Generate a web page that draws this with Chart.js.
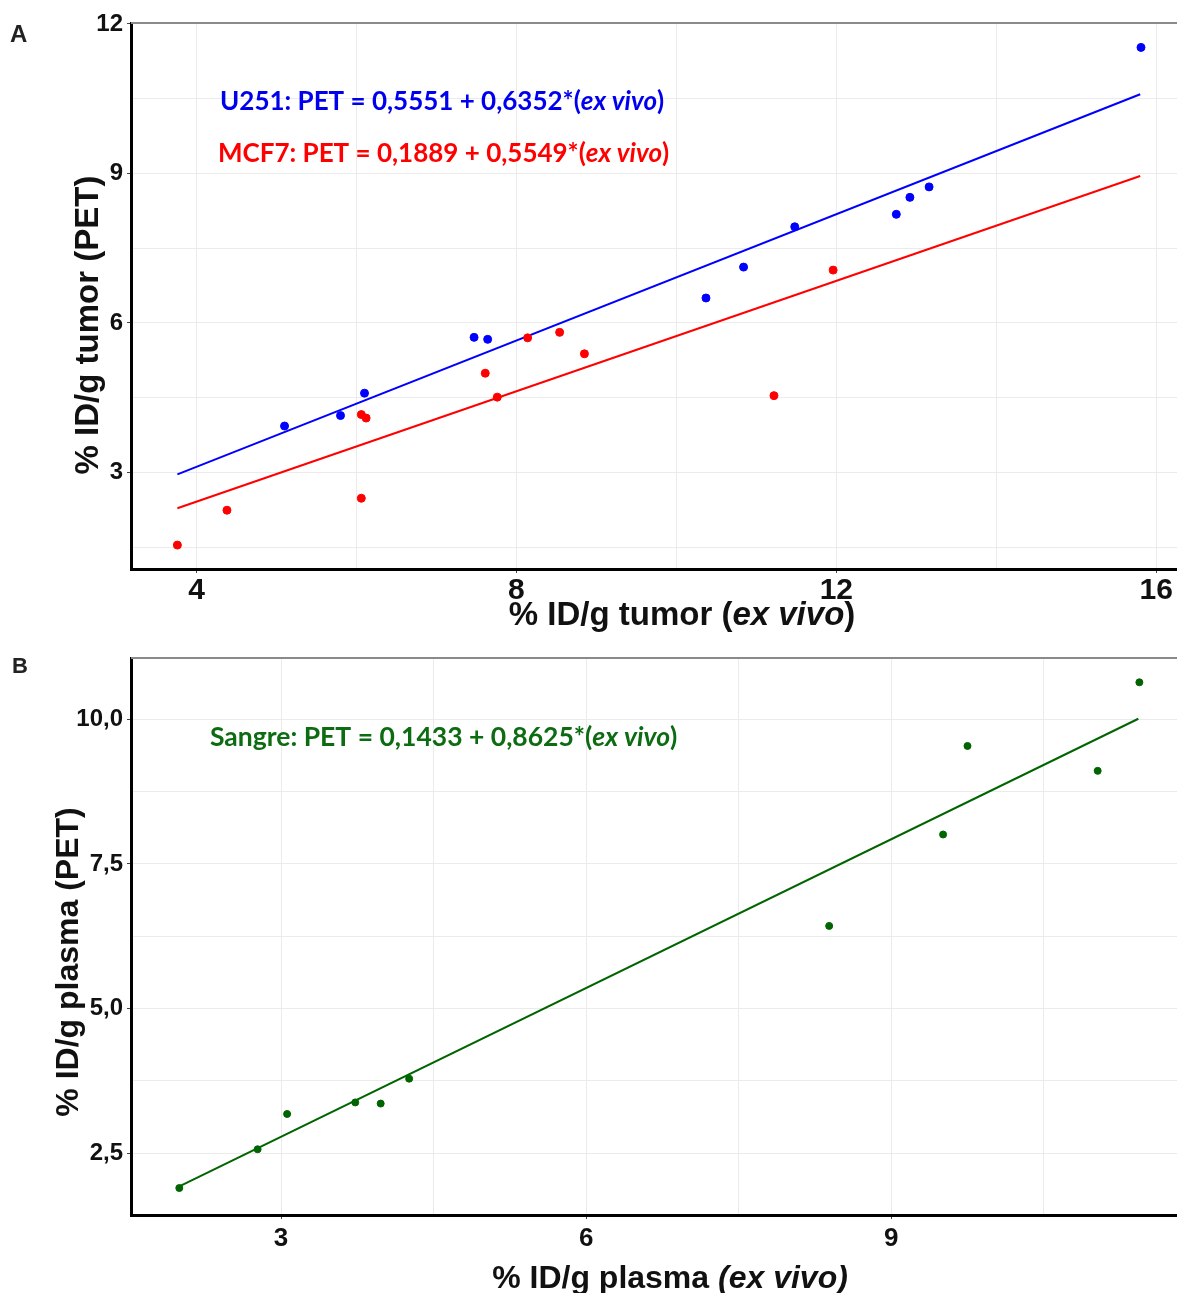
<!DOCTYPE html>
<html>
<head>
<meta charset="utf-8">
<script src="https://cdn.jsdelivr.net/npm/chart.js@4"></script>
<style>
  html, body { margin: 0; padding: 0; background: #fff; }
  #wrap { position: relative; width: 1177px; height: 1293px; overflow: hidden; }
  canvas { display: block; }
</style>
</head>
<body>
<div id="wrap">
  <canvas id="graficoA" width="1177" height="640"></canvas>
  <canvas id="graficoB" width="1177" height="653"></canvas>
</div>
<script>
// -------------------------
// Panel A - tumor
// -------------------------
const u251ExVivo = [5.10, 5.80, 6.10, 7.47, 7.64, 10.37, 10.84, 11.48, 12.75, 12.92, 13.16, 15.81];
const u251Pet    = [3.93, 4.14, 4.59, 5.71, 5.67, 6.50, 7.12, 7.93, 8.18, 8.52, 8.73, 11.53];
const mcf7ExVivo = [3.76, 4.38, 6.06, 6.06, 6.12, 7.61, 7.76, 8.14, 8.54, 8.85, 11.22, 11.96];
const mcf7Pet    = [1.54, 2.24, 2.48, 4.16, 4.09, 4.99, 4.51, 5.70, 5.81, 5.38, 4.54, 7.06];

// rectas de regresion (extremos)
const u251RectaX = [3.76, 15.80];
const u251RectaY = [2.96, 10.59];
const mcf7RectaX = [3.76, 15.80];
const mcf7RectaY = [2.28, 8.95];

// -------------------------
// Panel B - sangre
// -------------------------
const sangreExVivo = [2.00, 2.77, 3.06, 3.73, 3.98, 4.26, 8.39, 9.51, 9.75, 11.03, 11.44];
const sangrePet    = [1.90, 2.57, 3.18, 3.38, 3.36, 3.79, 6.43, 8.01, 9.54, 9.11, 10.64];
const sangreRectaX = [2.00, 11.43];
const sangreRectaY = [1.93, 10.01];

// ticks
const ticksXA = [4, 8, 12, 16];
const minorXA = [6, 10, 14];
const ticksYA = [3, 6, 9, 12];
const minorYA = [1.5, 4.5, 7.5, 10.5];

const ticksXB = [3, 6, 9];
const minorXB = [4.5, 7.5, 10.5];
const ticksYB = [2.5, 5, 7.5, 10];
const labelsYB = ["2,5", "5,0", "7,5", "10,0"];
const minorYB = [3.75, 6.25, 8.75];

// -------------------------
// helpers
// -------------------------
function puntos(xs, ys) {
  return xs.map((x, i) => ({ x: x, y: ys[i] }));
}

function eje(cfg) {
  const mayores = cfg.mayores;
  const etiquetas = cfg.etiquetas || mayores.map(String);
  return {
    type: "linear",
    min: cfg.min,
    max: cfg.max,
    afterBuildTicks: s => {
      s.ticks = mayores.concat(cfg.menores).sort((a, b) => a - b).map(v => ({ value: v }));
    },
    afterFit: s => {
      // sin margenes extra por las etiquetas de los extremos
      s.paddingLeft = 0;
      s.paddingRight = 0;
      s.paddingTop = 0;
      s.paddingBottom = 0;
      if (cfg.esX) s.height = cfg.tam; else s.width = cfg.tam;
    },
    ticks: {
      autoSkip: false,
      maxRotation: 0,
      padding: cfg.padding,
      color: "#111",
      font: { family: "'Liberation Sans', Arial, sans-serif", size: cfg.fuente, weight: "bold" },
      callback: v => {
        const i = mayores.indexOf(v);
        return i >= 0 ? etiquetas[i] : "";
      }
    },
    grid: {
      color: "#ebebeb",
      lineWidth: 1,
      tickLength: 4,
      tickColor: c => (c.tick && mayores.includes(c.tick.value)) ? "#444" : "rgba(0,0,0,0)"
    },
    border: { color: "#000", width: 3 }
  };
}

// texto con partes en cursiva + borde superior gris
const textosPlugin = {
  id: "textos",
  beforeDatasetsDraw(chart) {
    const a = chart.chartArea;
    const ctx = chart.ctx;
    ctx.save();
    ctx.strokeStyle = "#8a8a8a";
    ctx.lineWidth = 2;
    ctx.beginPath();
    ctx.moveTo(a.left, a.top);
    ctx.lineTo(a.right, a.top);
    ctx.stroke();
    ctx.restore();
  },
  afterDraw(chart, args, opts) {
    const ctx = chart.ctx;
    (opts.items || []).forEach(item => {
      ctx.save();
      ctx.fillStyle = item.color;
      ctx.textBaseline = "alphabetic";
      ctx.translate(item.x, item.y);
      if (item.rotar) ctx.rotate(-Math.PI / 2);
      const fuente = p => (p.it ? "italic " : "") + "bold " + item.size + "px " + item.family;
      let total = 0;
      item.partes.forEach(p => { ctx.font = fuente(p); total += ctx.measureText(p.t).width; });
      let x = item.centro ? -total / 2 : 0;
      item.partes.forEach(p => {
        ctx.font = fuente(p);
        ctx.fillText(p.t, x, 0);
        x += ctx.measureText(p.t).width;
      });
      ctx.restore();
    });
  }
};

const ARIAL = "'Liberation Sans', Arial, sans-serif";
const CALIBRI = "Lato, 'Open Sans', sans-serif";

function opcionesBase(scales, items, padTop) {
  return {
    responsive: false,
    animation: false,
    layout: { autoPadding: false, padding: { top: padTop, right: 0, left: 0, bottom: 0 } },
    scales: scales,
    plugins: {
      legend: { display: false },
      tooltip: { enabled: false },
      textos: { items: items }
    }
  };
}

// -------------------------
// Grafico A
// -------------------------
new Chart(document.getElementById("graficoA"), {
  type: "scatter",
  data: {
    datasets: [
      { data: puntos(u251ExVivo, u251Pet), backgroundColor: "#0000ff", borderColor: "#0000ff", pointRadius: 4, order: 0 },
      { data: puntos(mcf7ExVivo, mcf7Pet), backgroundColor: "#ff0000", borderColor: "#ff0000", pointRadius: 4, order: 0 },
      { data: puntos(u251RectaX, u251RectaY), showLine: true, pointRadius: 0, borderColor: "#0000ff", borderWidth: 2, order: 1 },
      { data: puntos(mcf7RectaX, mcf7RectaY), showLine: true, pointRadius: 0, borderColor: "#ff0000", borderWidth: 2, order: 1 }
    ]
  },
  options: opcionesBase({
    x: eje({ esX: true, min: 3.18, max: 16.26, mayores: ticksXA, menores: minorXA, fuente: 30, tam: 71, padding: 0 }),
    y: eje({ esX: false, min: 1.06, max: 12.02, mayores: ticksYA, menores: minorYA, fuente: 24, tam: 131, padding: 4 })
  }, [
    { x: 10, y: 42, size: 24, family: ARIAL, color: "#222", partes: [{ t: "A" }] },
    { x: 220, y: 110, size: 26, family: CALIBRI, color: "#0000ee",
      partes: [{ t: "U251: PET = 0,5551 + 0,6352*(" }, { t: "ex vivo", it: true }, { t: ")" }] },
    { x: 218, y: 162, size: 26, family: CALIBRI, color: "#ff0000",
      partes: [{ t: "MCF7: PET = 0,1889 + 0,5549*(" }, { t: "ex vivo", it: true }, { t: ")" }] },
    { x: 682, y: 625, size: 33, family: ARIAL, color: "#111", centro: true,
      partes: [{ t: "% ID/g tumor (" }, { t: "ex vivo", it: true }, { t: ")" }] },
    { x: 98, y: 325, size: 33, family: ARIAL, color: "#111", centro: true, rotar: true,
      partes: [{ t: "% ID/g tumor (PET)" }] }
  ], 23),
  plugins: [textosPlugin]
});

// -------------------------
// Grafico B
// -------------------------
new Chart(document.getElementById("graficoB"), {
  type: "scatter",
  data: {
    datasets: [
      { data: puntos(sangreExVivo, sangrePet), backgroundColor: "#006400", borderColor: "#006400", pointRadius: 3.5, order: 0 },
      { data: puntos(sangreRectaX, sangreRectaY), showLine: true, pointRadius: 0, borderColor: "#006400", borderWidth: 2, order: 1 }
    ]
  },
  options: opcionesBase({
    x: eje({ esX: true, min: 1.525, max: 11.81, mayores: ticksXB, menores: minorXB, fuente: 26, tam: 78, padding: 4 }),
    y: eje({ esX: false, min: 1.434, max: 11.06, mayores: ticksYB, etiquetas: labelsYB, menores: minorYB, fuente: 24, tam: 131, padding: 4 })
  }, [
    { x: 12, y: 33, size: 22, family: ARIAL, color: "#222", partes: [{ t: "B" }] },
    { x: 210, y: 106, size: 26.5, family: CALIBRI, color: "#0d6b12",
      partes: [{ t: "Sangre: PET = 0,1433 + 0,8625*(" }, { t: "ex vivo", it: true }, { t: ")" }] },
    { x: 670, y: 648, size: 32, family: ARIAL, color: "#111", centro: true,
      partes: [{ t: "% ID/g plasma " }, { t: "(ex vivo)", it: true }] },
    { x: 78, y: 322, size: 32, family: ARIAL, color: "#111", centro: true, rotar: true,
      partes: [{ t: "% ID/g plasma (PET)" }] }
  ], 18),
  plugins: [textosPlugin]
});
</script>
</body>
</html>
